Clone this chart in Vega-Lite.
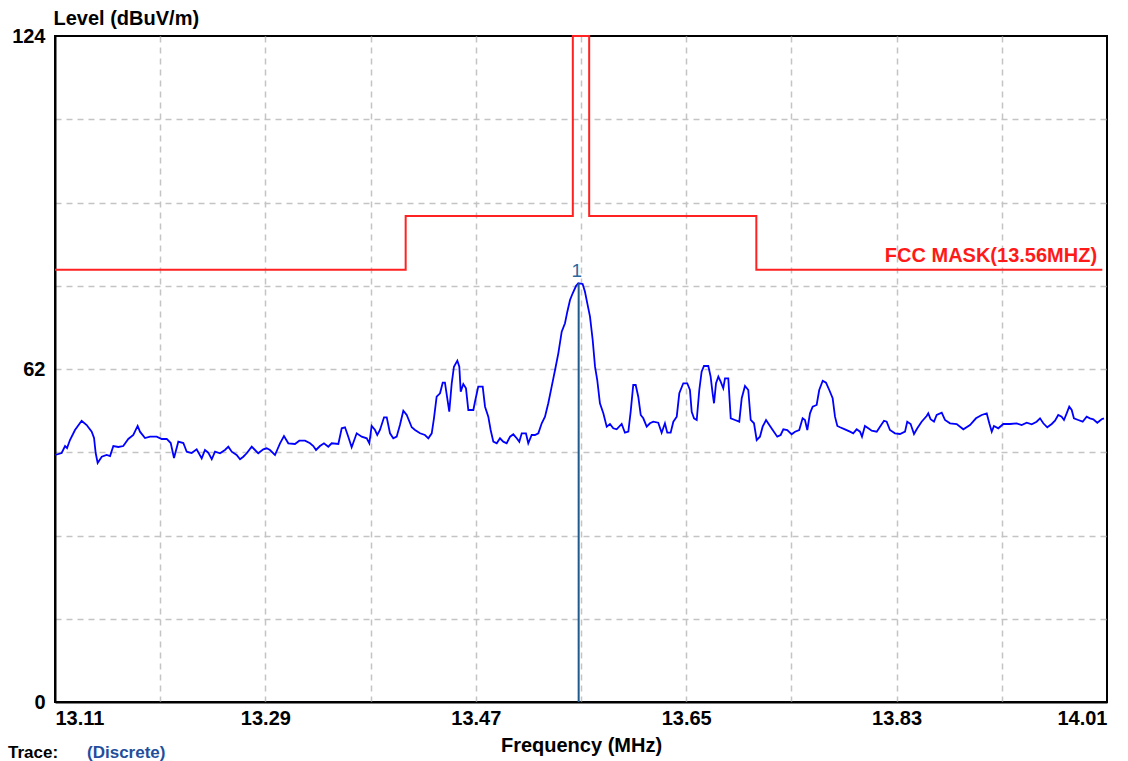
{
  "$schema": "https://vega.github.io/schema/vega-lite/v6.json",
  "width": 1052,
  "height": 666,
  "autosize": "none",
  "padding": {"left": 55, "top": 36, "right": 21, "bottom": 59},
  "background": "white",
  "config": {
    "view": {"stroke": "black", "strokeWidth": 2},
    "font": "Liberation Sans"
  },
  "datasets": {
    "trace": [
      {"f":13.1100,"v":45.99},{"f":13.1157,"v":46.36},{"f":13.1186,"v":47.66},{"f":13.1203,"v":47.29},{"f":13.1228,"v":48.78},
      {"f":13.1271,"v":50.64},{"f":13.1328,"v":52.37},{"f":13.1371,"v":51.57},{"f":13.1414,"v":50.33},{"f":13.1434,"v":49.15},
      {"f":13.1448,"v":46.36},{"f":13.1465,"v":44.50},{"f":13.1500,"v":45.67},{"f":13.1542,"v":45.99},{"f":13.1571,"v":45.80},
      {"f":13.1599,"v":47.66},{"f":13.1642,"v":47.48},{"f":13.1684,"v":47.66},{"f":13.1727,"v":48.97},{"f":13.1770,"v":49.71},
      {"f":13.1807,"v":51.39},{"f":13.1827,"v":50.33},{"f":13.1870,"v":49.15},{"f":13.1913,"v":49.40},{"f":13.1970,"v":49.40},
      {"f":13.2013,"v":48.97},{"f":13.2056,"v":48.97},{"f":13.2090,"v":48.22},{"f":13.2118,"v":45.43},{"f":13.2155,"v":48.47},
      {"f":13.2198,"v":48.22},{"f":13.2227,"v":46.60},{"f":13.2269,"v":46.36},{"f":13.2312,"v":47.05},{"f":13.2355,"v":45.37},
      {"f":13.2383,"v":46.92},{"f":13.2411,"v":46.42},{"f":13.2441,"v":45.19},{"f":13.2469,"v":46.60},{"f":13.2512,"v":46.31},
      {"f":13.2554,"v":46.92},{"f":13.2583,"v":47.53},{"f":13.2612,"v":46.60},{"f":13.2654,"v":45.99},{"f":13.2683,"v":45.19},
      {"f":13.2711,"v":45.67},{"f":13.2740,"v":46.31},{"f":13.2783,"v":47.53},{"f":13.2811,"v":46.92},{"f":13.2839,"v":46.31},
      {"f":13.2882,"v":47.05},{"f":13.2911,"v":47.24},{"f":13.2939,"v":46.92},{"f":13.2982,"v":45.99},{"f":13.3025,"v":48.17},
      {"f":13.3059,"v":49.53},{"f":13.3096,"v":48.17},{"f":13.3153,"v":48.04},{"f":13.3190,"v":48.65},{"f":13.3239,"v":48.65},
      {"f":13.3282,"v":48.17},{"f":13.3310,"v":47.66},{"f":13.3333,"v":46.92},{"f":13.3367,"v":47.66},{"f":13.3401,"v":48.17},
      {"f":13.3438,"v":47.53},{"f":13.3467,"v":48.17},{"f":13.3524,"v":48.04},{"f":13.3553,"v":50.96},{"f":13.3581,"v":51.15},
      {"f":13.3609,"v":49.40},{"f":13.3638,"v":47.42},{"f":13.3681,"v":50.03},{"f":13.3724,"v":49.40},{"f":13.3767,"v":49.10},
      {"f":13.3789,"v":48.17},{"f":13.3809,"v":51.39},{"f":13.3838,"v":50.64},{"f":13.3857,"v":49.71},{"f":13.3880,"v":50.64},
      {"f":13.3915,"v":53.01},{"f":13.3938,"v":53.01},{"f":13.3966,"v":50.03},{"f":13.3994,"v":49.10},{"f":13.4023,"v":49.40},
      {"f":13.4051,"v":51.57},{"f":13.4080,"v":54.24},{"f":13.4109,"v":53.44},{"f":13.4152,"v":51.15},{"f":13.4180,"v":50.64},
      {"f":13.4223,"v":50.03},{"f":13.4265,"v":49.71},{"f":13.4294,"v":49.10},{"f":13.4323,"v":50.03},{"f":13.4342,"v":52.82},
      {"f":13.4365,"v":56.84},{"f":13.4394,"v":57.48},{"f":13.4417,"v":59.45},{"f":13.4436,"v":59.45},{"f":13.4456,"v":56.55},
      {"f":13.4473,"v":54.05},{"f":13.4494,"v":59.34},{"f":13.4513,"v":62.43},{"f":13.4542,"v":63.55},{"f":13.4559,"v":62.43},
      {"f":13.4571,"v":57.77},{"f":13.4593,"v":59.21},{"f":13.4616,"v":58.41},{"f":13.4636,"v":54.37},{"f":13.4679,"v":54.37},
      {"f":13.4693,"v":55.91},{"f":13.4721,"v":58.71},{"f":13.4759,"v":58.71},{"f":13.4779,"v":54.98},{"f":13.4807,"v":53.12},
      {"f":13.4827,"v":50.64},{"f":13.4850,"v":48.47},{"f":13.4879,"v":48.17},{"f":13.4907,"v":49.10},{"f":13.4935,"v":48.47},
      {"f":13.4964,"v":48.17},{"f":13.4993,"v":49.40},{"f":13.5021,"v":49.84},{"f":13.5050,"v":49.10},{"f":13.5072,"v":48.47},
      {"f":13.5093,"v":50.03},{"f":13.5129,"v":50.03},{"f":13.5149,"v":48.17},{"f":13.5178,"v":49.71},{"f":13.5206,"v":49.71},
      {"f":13.5235,"v":50.03},{"f":13.5264,"v":51.89},{"f":13.5292,"v":53.12},{"f":13.5320,"v":55.62},{"f":13.5349,"v":58.71},
      {"f":13.5378,"v":61.81},{"f":13.5406,"v":64.92},{"f":13.5435,"v":68.95},{"f":13.5463,"v":70.51},{"f":13.5483,"v":72.67},
      {"f":13.5506,"v":74.85},{"f":13.5529,"v":76.10},{"f":13.5557,"v":77.45},{"f":13.5577,"v":77.96},{"f":13.5614,"v":77.83},
      {"f":13.5634,"v":76.39},{"f":13.5654,"v":74.23},{"f":13.5677,"v":71.74},{"f":13.5700,"v":67.40},{"f":13.5720,"v":62.43},
      {"f":13.5739,"v":59.95},{"f":13.5762,"v":55.62},{"f":13.5791,"v":53.75},{"f":13.5820,"v":51.26},{"f":13.5848,"v":51.76},
      {"f":13.5876,"v":50.96},{"f":13.5905,"v":50.77},{"f":13.5948,"v":51.76},{"f":13.5976,"v":50.14},{"f":13.6005,"v":50.33},
      {"f":13.6025,"v":54.05},{"f":13.6047,"v":59.02},{"f":13.6068,"v":59.02},{"f":13.6090,"v":56.84},{"f":13.6111,"v":53.44},
      {"f":13.6133,"v":52.82},{"f":13.6162,"v":51.26},{"f":13.6190,"v":51.89},{"f":13.6218,"v":52.19},{"f":13.6261,"v":52.00},
      {"f":13.6290,"v":50.14},{"f":13.6318,"v":51.89},{"f":13.6338,"v":50.14},{"f":13.6367,"v":50.14},{"f":13.6390,"v":52.19},
      {"f":13.6419,"v":53.12},{"f":13.6441,"v":57.48},{"f":13.6475,"v":59.34},{"f":13.6509,"v":59.34},{"f":13.6532,"v":58.09},
      {"f":13.6547,"v":54.05},{"f":13.6567,"v":52.82},{"f":13.6590,"v":52.51},{"f":13.6612,"v":58.09},{"f":13.6632,"v":61.50},
      {"f":13.6652,"v":62.56},{"f":13.6689,"v":62.56},{"f":13.6709,"v":60.57},{"f":13.6726,"v":57.48},{"f":13.6738,"v":55.62},
      {"f":13.6755,"v":59.34},{"f":13.6775,"v":60.57},{"f":13.6795,"v":59.64},{"f":13.6817,"v":58.41},{"f":13.6832,"v":60.27},
      {"f":13.6860,"v":60.27},{"f":13.6881,"v":52.82},{"f":13.6917,"v":52.51},{"f":13.6954,"v":52.19},{"f":13.6975,"v":56.55},
      {"f":13.7003,"v":58.84},{"f":13.7031,"v":58.09},{"f":13.7052,"v":52.51},{"f":13.7080,"v":51.89},{"f":13.7103,"v":48.78},
      {"f":13.7131,"v":49.40},{"f":13.7154,"v":51.26},{"f":13.7183,"v":52.51},{"f":13.7211,"v":51.57},{"f":13.7240,"v":50.64},
      {"f":13.7279,"v":49.40},{"f":13.7308,"v":49.71},{"f":13.7331,"v":50.77},{"f":13.7365,"v":50.64},{"f":13.7402,"v":49.84},
      {"f":13.7431,"v":50.33},{"f":13.7467,"v":50.64},{"f":13.7496,"v":52.82},{"f":13.7516,"v":52.51},{"f":13.7536,"v":50.64},
      {"f":13.7559,"v":53.75},{"f":13.7582,"v":54.98},{"f":13.7616,"v":55.30},{"f":13.7638,"v":58.09},{"f":13.7668,"v":59.82},
      {"f":13.7696,"v":59.45},{"f":13.7724,"v":58.09},{"f":13.7753,"v":56.55},{"f":13.7773,"v":53.12},{"f":13.7793,"v":51.39},
      {"f":13.7816,"v":51.15},{"f":13.7858,"v":50.77},{"f":13.7901,"v":50.33},{"f":13.7929,"v":50.03},{"f":13.7958,"v":50.77},
      {"f":13.7987,"v":50.33},{"f":13.8004,"v":49.40},{"f":13.8029,"v":51.39},{"f":13.8058,"v":50.96},{"f":13.8087,"v":50.51},
      {"f":13.8130,"v":50.33},{"f":13.8158,"v":51.26},{"f":13.8192,"v":52.37},{"f":13.8215,"v":52.19},{"f":13.8243,"v":50.64},
      {"f":13.8286,"v":50.03},{"f":13.8329,"v":49.90},{"f":13.8372,"v":50.33},{"f":13.8391,"v":52.19},{"f":13.8420,"v":51.76},
      {"f":13.8449,"v":49.90},{"f":13.8477,"v":50.96},{"f":13.8514,"v":52.19},{"f":13.8557,"v":53.25},{"f":13.8571,"v":53.75},
      {"f":13.8591,"v":52.64},{"f":13.8620,"v":52.19},{"f":13.8643,"v":53.44},{"f":13.8686,"v":53.87},{"f":13.8714,"v":52.51},
      {"f":13.8757,"v":51.89},{"f":13.8814,"v":51.76},{"f":13.8871,"v":50.77},{"f":13.8928,"v":51.57},{"f":13.8979,"v":52.82},
      {"f":13.9028,"v":53.44},{"f":13.9071,"v":53.75},{"f":13.9093,"v":51.89},{"f":13.9114,"v":50.33},{"f":13.9133,"v":51.39},
      {"f":13.9170,"v":50.96},{"f":13.9213,"v":51.76},{"f":13.9270,"v":51.76},{"f":13.9327,"v":51.89},{"f":13.9370,"v":51.57},
      {"f":13.9413,"v":52.00},{"f":13.9456,"v":51.71},{"f":13.9498,"v":52.19},{"f":13.9527,"v":52.82},{"f":13.9555,"v":51.89},
      {"f":13.9589,"v":51.15},{"f":13.9627,"v":51.76},{"f":13.9655,"v":52.37},{"f":13.9683,"v":53.44},{"f":13.9712,"v":53.12},
      {"f":13.9732,"v":52.51},{"f":13.9755,"v":53.75},{"f":13.9777,"v":54.98},{"f":13.9798,"v":54.37},{"f":13.9817,"v":52.82},
      {"f":13.9854,"v":52.51},{"f":13.9892,"v":52.19},{"f":13.9926,"v":53.12},{"f":13.9954,"v":52.82},{"f":13.9983,"v":52.64},
      {"f":14.0017,"v":52.00},{"f":14.0054,"v":52.64},{"f":14.0074,"v":52.82}
    ],
    "mask": [
      {"i":0,"f":13.11,"v":80.5},{"i":1,"f":13.41,"v":80.5},{"i":2,"f":13.41,"v":90.5},{"i":3,"f":13.553,"v":90.5},
      {"i":4,"f":13.553,"v":124},{"i":5,"f":13.567,"v":124},{"i":6,"f":13.567,"v":90.5},{"i":7,"f":13.71,"v":90.5},
      {"i":8,"f":13.71,"v":80.5},{"i":9,"f":14.006,"v":80.5}
    ],
    "marker": [{"f":13.558,"v":77.96,"label":"1"}],
    "masklabel": [{"f":14.0015,"v":83.0,"label":"FCC MASK(13.56MHZ)"}],
    "footer": [
      {"f":13.0698,"v":-11.2,"label":"Trace:","kind":"a"},
      {"f":13.1374,"v":-11.2,"label":"(Discrete)","kind":"b"}
    ]
  },
  "encoding": {
    "x": {
      "field": "f", "type": "quantitative",
      "scale": {"domain": [13.11, 14.01], "nice": false, "zero": false},
      "axis": {
        "values": [13.11, 13.20, 13.29, 13.38, 13.47, 13.56, 13.65, 13.74, 13.83, 13.92, 14.01],
        "format": ".2f",
        "labelExpr": "indexof(['13.11','13.29','13.47','13.65','13.83','14.01'], datum.label) >= 0 ? datum.label : ''",
        "labelFlush": true,
        "labelOverlap": false,
        "ticks": false,
        "grid": true, "gridColor": "#c4c4c4", "gridDash": [6, 5], "gridWidth": 1.5,
        "gridOpacity": {"condition": {"test": "datum.value < 13.12 || datum.value > 14.0", "value": 0}, "value": 1},
        "domain": true, "domainColor": "black", "domainWidth": 2,
        "labelFont": "Liberation Sans", "labelFontSize": 20, "labelFontWeight": "bold", "labelColor": "black",
        "labelPadding": 6,
        "title": "Frequency (MHz)",
        "titleFont": "Liberation Sans", "titleFontSize": 20, "titleFontWeight": "bold", "titleColor": "black",
        "titlePadding": 7
      }
    },
    "y": {
      "field": "v", "type": "quantitative",
      "scale": {"domain": [0, 124], "nice": false, "zero": false},
      "axis": {
        "values": [0, 15.5, 31, 46.5, 62, 77.5, 93, 108.5, 124],
        "labelExpr": "(datum.value == 0 || datum.value == 62 || datum.value == 124) ? datum.label : ''",
        "labelOverlap": false,
        "ticks": false,
        "grid": true, "gridColor": "#c4c4c4", "gridDash": [6, 5], "gridWidth": 1.5,
        "gridOpacity": {"condition": {"test": "datum.value == 0 || datum.value == 124", "value": 0}, "value": 1},
        "domain": true, "domainColor": "black", "domainWidth": 2,
        "labelFont": "Liberation Sans", "labelFontSize": 20, "labelFontWeight": "bold", "labelColor": "black",
        "labelPadding": 10, "labelBaseline": "middle",
        "title": "Level (dBuV/m)",
        "titleAngle": 0, "titleAlign": "left", "titleBaseline": "middle",
        "titleX": -2, "titleY": -18,
        "titleFont": "Liberation Sans", "titleFontSize": 20, "titleFontWeight": "bold", "titleColor": "black"
      }
    }
  },
  "layer": [
    {
      "data": {"name": "mask"},
      "mark": {"type": "line", "color": "#ff2222", "strokeWidth": 2},
      "encoding": {"order": {"field": "i", "type": "quantitative"}}
    },
    {
      "data": {"name": "trace"},
      "mark": {"type": "line", "color": "#0000ff", "strokeWidth": 1.8}
    },
    {
      "data": {"name": "marker"},
      "mark": {"type": "rule", "color": "#1f5a8c", "strokeWidth": 2},
      "encoding": {"y2": {"datum": 0}}
    },
    {
      "data": {"name": "marker"},
      "mark": {"type": "text", "color": "#2b6a9e", "fontSize": 19, "baseline": "bottom", "dy": -2, "dx": -2, "font": "Liberation Sans"},
      "encoding": {"text": {"field": "label"}}
    },
    {
      "data": {"name": "masklabel"},
      "mark": {"type": "text", "color": "#ff1a1a", "fontSize": 20, "fontWeight": "bold", "align": "right", "baseline": "middle", "font": "Liberation Sans"},
      "encoding": {"text": {"field": "label"}}
    },
    {
      "data": {"name": "footer"},
      "mark": {"type": "text", "fontSize": 17, "fontWeight": "bold", "align": "left", "baseline": "bottom", "font": "Liberation Sans"},
      "encoding": {
        "text": {"field": "label"},
        "color": {"field": "kind", "type": "nominal", "scale": {"domain": ["a", "b"], "range": ["black", "#1f4e9c"]}, "legend": null}
      }
    }
  ]
}
